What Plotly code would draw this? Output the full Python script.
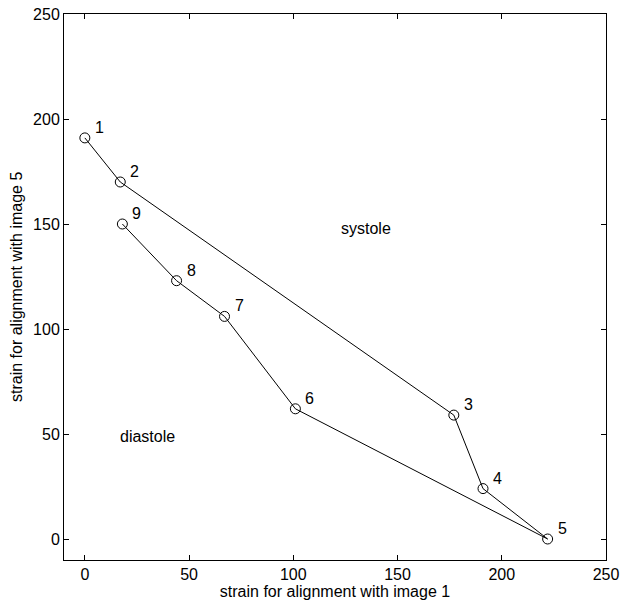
import plotly.graph_objects as go

x_vals = [0, 17, 177, 191, 222, 101, 67, 44, 18]
y_vals = [191, 170, 59, 24, 0, 62, 106, 123, 150]
point_labels = ["1", "2", "3", "4", "5", "6", "7", "8", "9"]
region_text = ["systole", "diastole"]
region_x = [135, 30]
region_y = [148, 49]
ticks = [0, 50, 100, 150, 200, 250]

font = dict(family="Liberation Sans, Arial, sans-serif", size=16, color="black")

fig = go.Figure()
fig.add_trace(go.Scatter(
    x=x_vals, y=y_vals, mode="lines+markers",
    line=dict(color="black", width=1),
    marker=dict(symbol="circle-open", size=10, color="black", line=dict(width=1)),
    showlegend=False, hoverinfo="skip",
))

for xv, yv, t in zip(x_vals, y_vals, point_labels):
    fig.add_annotation(x=xv, y=yv, text=t, showarrow=False, xanchor="left", yanchor="bottom",
                       xshift=8, yshift=0, font=font)
for t, xv, yv in zip(region_text, region_x, region_y):
    fig.add_annotation(x=xv, y=yv, text=t, showarrow=False, font=font)

# y-axis title placed as an annotation for exact positioning
fig.add_annotation(xref="paper", yref="paper", x=0, y=0.5, xshift=-48, textangle=-90,
                   xanchor="center", yanchor="middle",
                   text="strain for alignment with image 5", showarrow=False, font=font)

axis_common = dict(
    showgrid=False, zeroline=False, showline=True, linecolor="black", linewidth=1,
    mirror="ticks", ticks="inside", ticklen=5, tickcolor="black",
    tickvals=ticks, tickfont=font, automargin=False, ticklabeloverflow="allow",
)
fig.update_xaxes(range=[-10, 250], title=dict(text="strain for alignment with image 1", font=font, standoff=2), **axis_common)
fig.update_yaxes(range=[-10, 250], **axis_common)

fig.update_layout(
    width=624, height=606,
    margin=dict(l=64, r=18, t=14, b=46),
    plot_bgcolor="white", paper_bgcolor="white",
    font=font, hovermode=False,
)
fig.write_html("out.html", config={"displayModeBar": False},
               post_script="document.body.style.margin='0';")
